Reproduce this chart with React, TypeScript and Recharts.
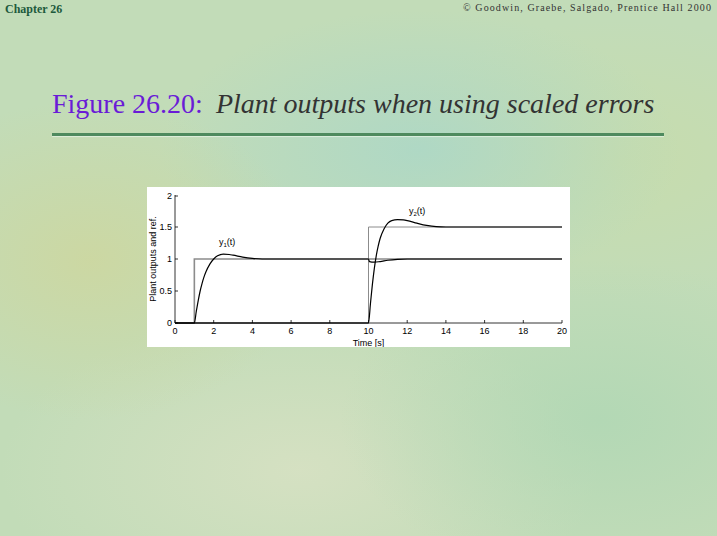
import React from "react";
import {
  LineChart,
  Line,
  XAxis,
  YAxis,
  ReferenceDot,
} from "recharts";

// reference signals (step inputs)
const ref1 = [
  { t: 0, v: 0 },
  { t: 1, v: 0 },
  { t: 1, v: 1 },
  { t: 20, v: 1 },
];
const ref2 = [
  { t: 0, v: 0 },
  { t: 10, v: 0 },
  { t: 10, v: 1.5 },
  { t: 20, v: 1.5 },
];

// plant outputs
const y1Times = [0, 1, 1.1, 1.2, 1.3, 1.4, 1.5, 1.6, 1.8, 2.0, 2.2, 2.5, 2.8, 3.0, 3.5, 4.0, 4.5, 5, 10, 10.05, 10.3, 10.6, 11, 11.5, 12, 20];
const y1Values = [0, 0, 0.18, 0.35, 0.5, 0.62, 0.72, 0.8, 0.92, 1.0, 1.05, 1.075, 1.07, 1.06, 1.03, 1.01, 1.0, 1.0, 1.0, 0.96, 0.95, 0.96, 0.98, 0.995, 1.0, 1.0];

const y2Times = [0, 10, 10.1, 10.2, 10.3, 10.4, 10.5, 10.6, 10.8, 11.0, 11.2, 11.5, 11.8, 12.0, 12.5, 13.0, 13.5, 14, 20];
const y2Values = [0, 0, 0.3, 0.6, 0.85, 1.05, 1.2, 1.32, 1.47, 1.56, 1.6, 1.615, 1.61, 1.6, 1.56, 1.525, 1.505, 1.5, 1.5];

const xTicks = [0, 2, 4, 6, 8, 10, 12, 14, 16, 18, 20];
const yTicks = [0, 0.5, 1, 1.5, 2];

const y1Data = y1Times.map((t, i) => ({ t, v: y1Values[i] }));
const y2Data = y2Times.map((t, i) => ({ t, v: y2Values[i] }));

const FONT = "'Liberation Sans', Arial, Helvetica, sans-serif";

const BottomTick = (p: any) => (
  <g>
    <line x1={p.x} y1={p.y} x2={p.x} y2={p.y - 3} stroke="#000" strokeWidth={0.8} />
    <text x={p.x} y={p.y + 11} textAnchor="middle" fontSize={9} fontFamily={FONT} fill="#000">
      {p.payload.value}
    </text>
  </g>
);
const TopTick = (p: any) => (
  <line x1={p.x} y1={p.y} x2={p.x} y2={p.y + 3} stroke="#000" strokeWidth={0.8} />
);
const LeftTick = (p: any) => (
  <g>
    <line x1={p.x} y1={p.y} x2={p.x + 3} y2={p.y} stroke="#000" strokeWidth={0.8} />
    <text x={p.x - 3} y={p.y + 3} textAnchor="end" fontSize={9} fontFamily={FONT} fill="#000">
      {p.payload.value}
    </text>
  </g>
);
const RightTick = (p: any) => (
  <line x1={p.x} y1={p.y} x2={p.x - 3} y2={p.y} stroke="#000" strokeWidth={0.8} />
);

const makeLabel = (idx: string) => (p: any) => (
  <text x={p.cx} y={p.cy} fontSize={9} fontFamily={FONT} fill="#000">
    y
    <tspan fontSize={6} dy={2}>{idx}</tspan>
    <tspan dy={-2}>(t)</tspan>
  </text>
);

export default function App() {
  return (
    <div
      style={{
        position: "absolute",
        left: 0,
        top: 0,
        width: 717,
        height: 536,
        overflow: "hidden",
        background:
          "radial-gradient(ellipse 220px 160px at 90px 260px, rgba(205,215,160,0.9), rgba(205,215,160,0) 100%)," +
          "radial-gradient(ellipse 260px 140px at 420px 150px, rgba(170,215,200,0.8), rgba(170,215,200,0) 100%)," +
          "radial-gradient(ellipse 260px 160px at 600px 420px, rgba(175,215,180,0.8), rgba(175,215,180,0) 100%)," +
          "radial-gradient(ellipse 300px 160px at 300px 470px, rgba(215,225,195,0.9), rgba(215,225,195,0) 100%)," +
          "radial-gradient(ellipse 240px 140px at 620px 160px, rgba(200,220,170,0.8), rgba(200,220,170,0) 100%)," +
          "#c2dcb8",
      }}
    >
      <div
        style={{
          position: "absolute",
          left: 5,
          top: 1,
          fontFamily: "'Liberation Serif', serif",
          fontWeight: "bold",
          fontSize: 13,
          color: "#1d5a3c",
          transform: "scaleX(0.92)",
          transformOrigin: "left",
          whiteSpace: "nowrap",
        }}
      >
        Chapter 26
      </div>
      <div
        style={{
          position: "absolute",
          right: 5,
          top: 2,
          fontFamily: "'Liberation Serif', serif",
          fontSize: 10,
          letterSpacing: 1.1,
          color: "#333",
          whiteSpace: "nowrap",
        }}
      >
        © Goodwin, Graebe, Salgado, Prentice Hall 2000
      </div>
      <div
        style={{
          position: "absolute",
          left: 52,
          top: 88,
          fontFamily: "'Liberation Serif', serif",
          fontSize: 28,
          whiteSpace: "nowrap",
        }}
      >
        <span style={{ color: "#6a1bd6" }}>Figure 26.20:</span>
        <span style={{ color: "#333", fontStyle: "italic", marginLeft: 13 }}>
          Plant outputs when using scaled errors
        </span>
      </div>
      <div
        style={{
          position: "absolute",
          left: 52,
          top: 133,
          width: 612,
          height: 3,
          background: "#4e8a5e",
          boxShadow: "0 1px 1px rgba(230,245,230,0.8)",
        }}
      />
      <div
        style={{
          position: "absolute",
          left: 147,
          top: 187,
          width: 423,
          height: 160,
          background: "#fff",
        }}
      >
        <LineChart
          width={423}
          height={160}
          margin={{ top: 8, right: 8, left: 0, bottom: 0 }}
          style={{ fontFamily: FONT }}
        >
          <XAxis
            dataKey="t"
            type="number"
            domain={[0, 20]}
            ticks={xTicks}
            height={24}
            tickSize={0}
            tickMargin={0}
            tick={BottomTick}
            axisLine={{ stroke: "#000", strokeWidth: 0.8 }}
            allowDuplicatedCategory={false}
            label={{
              value: "Time [s]",
              position: "insideBottom",
              offset: 1,
              style: { fontSize: 9, fill: "#000", fontFamily: FONT },
            }}
          />
          <XAxis
            xAxisId="top"
            orientation="top"
            dataKey="t"
            type="number"
            domain={[0, 20]}
            ticks={xTicks}
            height={0}
            tickSize={0}
            tickMargin={0}
            tick={TopTick}
            axisLine={{ stroke: "#000", strokeWidth: 0.8 }}
          />
          <YAxis
            type="number"
            domain={[0, 2]}
            ticks={yTicks}
            width={28}
            tickSize={0}
            tickMargin={0}
            tick={LeftTick}
            axisLine={{ stroke: "#000", strokeWidth: 0.8 }}
            label={{
              value: "Plant outputs and ref.",
              angle: -90,
              position: "insideLeft",
              offset: 6,
              style: { fontSize: 9, fill: "#000", fontFamily: FONT, textAnchor: "middle" },
            }}
          />
          <YAxis
            yAxisId="r"
            orientation="right"
            type="number"
            domain={[0, 2]}
            ticks={yTicks}
            width={0}
            tickSize={0}
            tickMargin={0}
            tick={RightTick}
            axisLine={{ stroke: "#000", strokeWidth: 0.8 }}
          />
          <Line data={ref1} dataKey="v" type="linear" stroke="#8c8c8c" strokeWidth={1.6} dot={false} isAnimationActive={false} />
          <Line data={ref2} dataKey="v" type="linear" stroke="#8c8c8c" strokeWidth={1} dot={false} isAnimationActive={false} />
          <Line data={y1Data} dataKey="v" type="monotone" stroke="#000" strokeWidth={1.2} dot={false} isAnimationActive={false} />
          <Line data={y2Data} dataKey="v" type="monotone" stroke="#000" strokeWidth={1.2} dot={false} isAnimationActive={false} />
          <ReferenceDot x={2.27} y={1.22} r={0} ifOverflow="visible" shape={makeLabel("1")} />
          <ReferenceDot x={12.09} y={1.7} r={0} ifOverflow="visible" shape={makeLabel("2")} />
        </LineChart>
      </div>
    </div>
  );
}
